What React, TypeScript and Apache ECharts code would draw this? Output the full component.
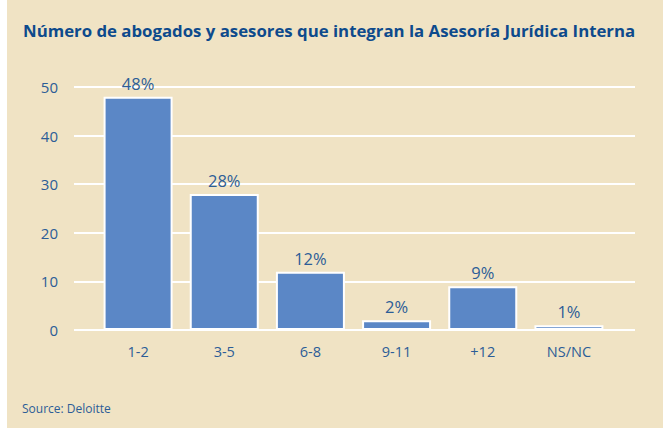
import React, { useEffect, useRef } from "react";
import * as echarts from "echarts";

const TITLE = "Número de abogados y asesores que integran la Asesoría Jurídica Interna";
const SOURCE = "Source: Deloitte";
const categories = ["1-2", "3-5", "6-8", "9-11", "+12", "NS/NC"];
const values = [48, 28, 12, 2, 9, 1];
const valueLabels = ["48%", "28%", "12%", "2%", "9%", "1%"];
const yTicks = [0, 10, 20, 30, 40, 50];

const BG = "#f0e3c4";
const BAR = "#5b87c6";
const TEXT = "#2c5d97";
const TITLE_C = "#0d4a8c";
const FONT = "'Open Sans', sans-serif";

export default function App() {
  const ref = useRef<HTMLDivElement>(null);
  useEffect(() => {
    if (!ref.current) return;
    const chart = echarts.init(ref.current, null, { renderer: "svg" });
    chart.setOption({
      animation: false,
      backgroundColor: "#ffffff",
      graphic: [
        { type: "rect", z: -10, shape: { x: 7, y: 0, width: 656, height: 428 }, style: { fill: BG } },
        {
          type: "text", x: 23, y: 30,
          style: { text: TITLE, fill: TITLE_C, font: `bold 16.8px ${FONT}`, textVerticalAlign: "middle" },
        },
        {
          type: "text", x: 22, y: 408,
          style: { text: SOURCE, fill: TEXT, font: `12px ${FONT}`, textVerticalAlign: "middle" },
        },
      ],
      grid: [
        { left: 74, right: 31, top: 87, bottom: 98 },
        { left: 95, right: 54, top: 87, bottom: 98 },
      ],
      xAxis: [
        { type: "category", gridIndex: 0, data: categories, show: false },
        {
          type: "category", gridIndex: 1, data: categories,
          axisLine: { show: false }, axisTick: { show: false },
          axisLabel: { color: TEXT, fontFamily: FONT, fontSize: 14.5, margin: 14 },
        },
      ],
      yAxis: [
        {
          type: "value", gridIndex: 0, min: 0, max: 50, interval: 10,
          axisLine: { show: false }, axisTick: { show: false },
          axisLabel: { color: TEXT, fontFamily: FONT, fontSize: 15, margin: 16 },
          splitLine: { lineStyle: { color: "#ffffff", width: 2 } },
        },
        { type: "value", gridIndex: 1, min: 0, max: 50, interval: 10, show: false, splitLine: { show: false } },
      ],
      series: [
        {
          type: "bar", xAxisIndex: 1, yAxisIndex: 1, data: values, barWidth: 69,
          itemStyle: { color: BAR, borderColor: "#ffffff", borderWidth: 2 },
          label: {
            show: true, position: "top", distance: 5, color: TEXT, fontFamily: FONT, fontSize: 16.5,
            formatter: (p: any) => valueLabels[p.dataIndex],
          },
        },
      ],
    });
    return () => chart.dispose();
  }, []);
  return <div ref={ref} style={{ position: "fixed", left: 0, top: 0, width: 666, height: 428 }} />;
}
